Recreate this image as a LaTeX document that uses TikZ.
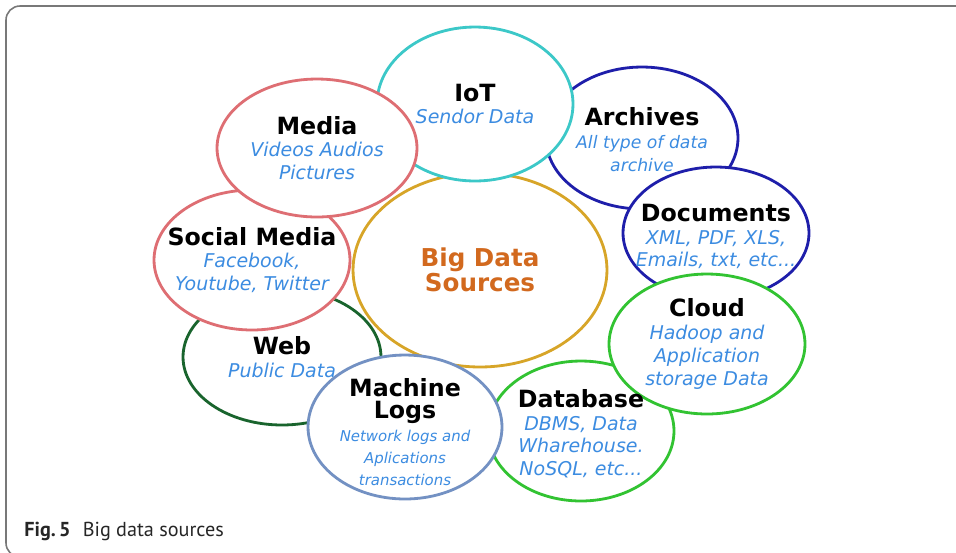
\documentclass[tikz,border=0pt]{standalone}
\usepackage{fontspec}
\setmainfont{DejaVu Sans}
\newfontfamily\capfont{PT Sans}
\usetikzlibrary{shapes.geometric}
\definecolor{framegray}{RGB}{120,120,120}
\definecolor{iotcyan}{RGB}{60,200,200}
\definecolor{arcnavy}{RGB}{30,30,170}
\definecolor{cloudgreen}{RGB}{50,195,50}
\definecolor{webgreen}{RGB}{25,100,45}
\definecolor{logsblue}{RGB}{115,145,195}
\definecolor{mediared}{RGB}{222,110,115}
\definecolor{bdgold}{RGB}{215,165,40}
\definecolor{bdorange}{RGB}{210,105,30}
\definecolor{subblue}{RGB}{60,140,225}
\newcommand{\srchead}[1]{{\fontsize{13.5}{16}\selectfont\upshape\bfseries\color{black}#1}}

\begin{document}
\begin{tikzpicture}[x=0.02cm, y=-0.02cm,
    ring/.style={ellipse, draw, line width=1.6pt, fill=white, inner sep=0pt},
    srctext/.style={align=center, text=subblue, font=\fontsize{10.8}{13}\selectfont\itshape}]
  \useasboundingbox (0,0) rectangle (956,552);

  % frame
  \begin{scope}
    \clip (0,0) rectangle (956,552);
    \draw[framegray, line width=0.9pt, rounded corners=8pt] (6,6) rectangle (1000,557);
  \end{scope}

  % rings, back to front
  \node[ring, draw=bdgold, minimum width=5.08cm, minimum height=3.88cm] (bigdata) at (480,270) {};
  \node[ring, draw=arcnavy, minimum width=3.84cm, minimum height=2.84cm] (archives) at (642,138) {};
  \node[ring, draw=iotcyan, minimum width=3.92cm, minimum height=3.08cm] (iot) at (475,104) {};
  \node[ring, draw=arcnavy, minimum width=3.72cm, minimum height=2.64cm] (documents) at (716,233) {};
  \node[ring, draw=cloudgreen, minimum width=3.72cm, minimum height=2.8cm] (database) at (581,431) {};
  \node[ring, draw=cloudgreen, minimum width=3.92cm, minimum height=2.8cm] (cloud) at (707,344) {};
  \node[ring, draw=webgreen, minimum width=3.96cm, minimum height=2.72cm] (web) at (282,357) {};
  \node[ring, draw=logsblue, minimum width=3.88cm, minimum height=2.88cm] (logs) at (405,427) {};
  \node[ring, draw=mediared, minimum width=3.92cm, minimum height=2.8cm] (social) at (252,260) {};
  \node[ring, draw=mediared, minimum width=4cm, minimum height=2.76cm] (media) at (317,148) {};

  % texts
  \node[text=bdorange, align=center, font=\fontsize{14}{12.5}\selectfont\bfseries] (bigdata-txt) at (bigdata) {Big Data\\Sources};
  \node[srctext] (iot-txt) at (iot) {\srchead{IoT}\\Sendor Data};
  \node[srctext, font=\fontsize{9.8}{13}\selectfont\itshape, yshift=-1pt] (archives-txt) at (archives) {\srchead{Archives}\\All type of data\\archive};
  \node[srctext, yshift=-2pt] (documents-txt) at (documents) {\srchead{Documents}\\XML, PDF, XLS,\\Emails, txt, etc...};
  \node[srctext] (cloud-txt) at (cloud) {\srchead{Cloud}\\Hadoop and\\Application\\storage Data};
  \node[srctext, yshift=-1.5pt] (database-txt) at (database) {\srchead{Database}\\DBMS, Data\\Wharehouse.\\NoSQL, etc...};
  \node[srctext] (web-txt) at (web) {\srchead{Web}\\Public Data};
  \node[srctext, font=\fontsize{8.5}{12.7}\selectfont\itshape, yshift=-3pt] (logs-txt) at (logs) {\srchead{Machine}\\\srchead{Logs}\\Network logs and\\Aplications\\transactions};
  \node[srctext] (social-txt) at (social) {\srchead{Social Media}\\Facebook,\\Youtube, Twitter};
  \node[srctext] (media-txt) at (media) {\srchead{Media}\\Videos Audios\\Pictures};

  % caption
  \node[anchor=west, inner sep=0pt, font=\capfont\fontsize{11.5}{13}\selectfont, text=black!85] (caption) at (24,531) {\textbf{Fig.\,5}\hspace{0.6em}Big data sources};
\end{tikzpicture}
\end{document}
